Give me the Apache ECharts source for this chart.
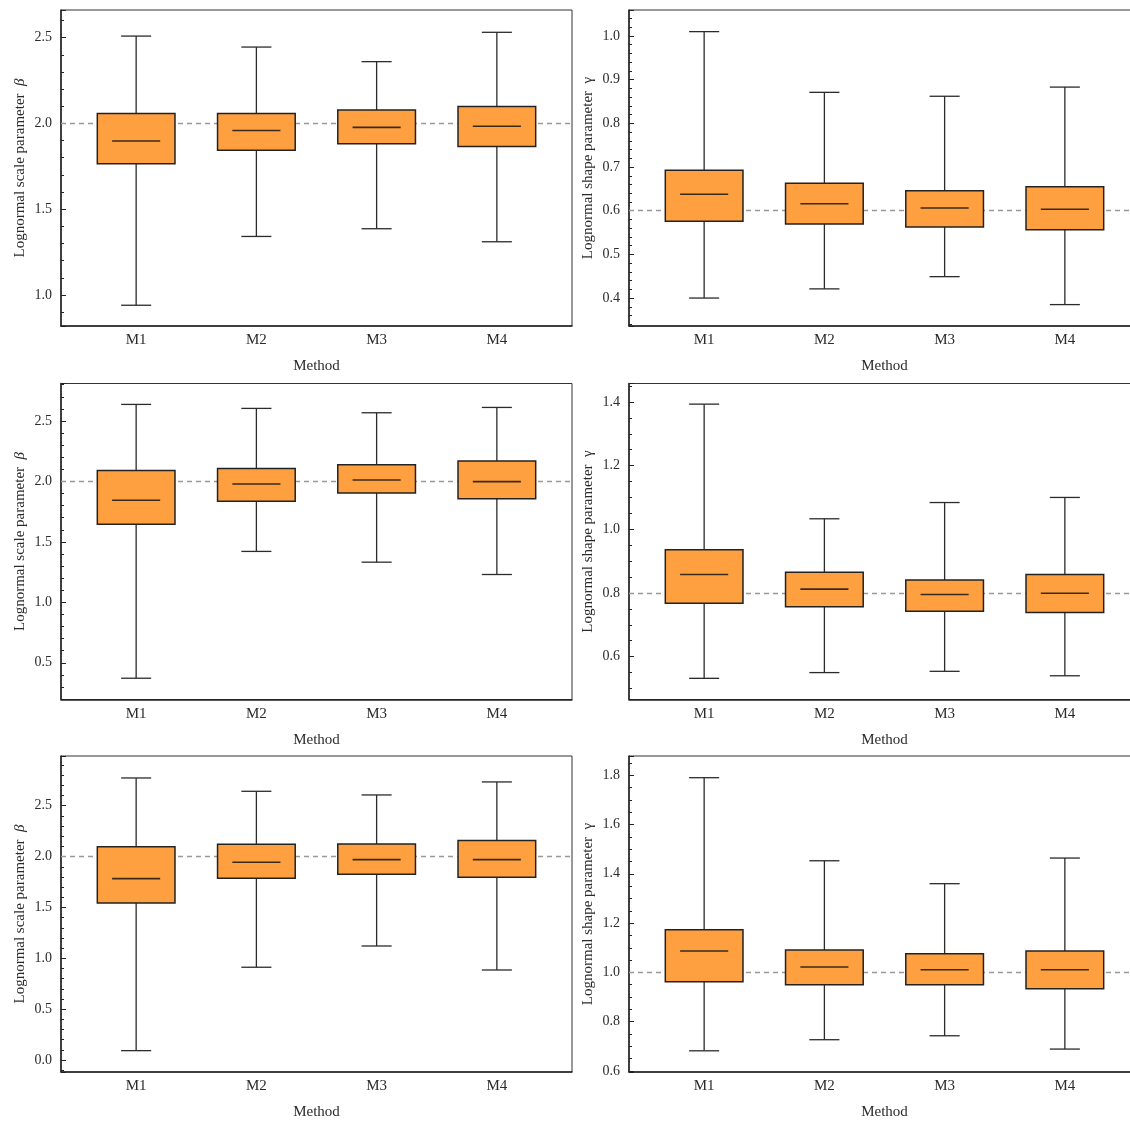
<!DOCTYPE html>
<html>
<head>
<meta charset="utf-8">
<script src="https://cdn.jsdelivr.net/npm/echarts@6/dist/echarts.min.js"></script>
<style>
  html, body { margin: 0; padding: 0; background: #fff; }
  #chart { width: 1130px; height: 1122px; }
</style>
</head>
<body>
<div id="chart"></div>
<script>
// Methods compared on the horizontal axis
const methods = ['M1', 'M2', 'M3', 'M4'];

// Five-number summaries per method: [lower whisker, Q1, median, Q3, upper whisker]
const betaRow1  = [[0.940, 1.765, 1.897, 2.058, 2.509], [1.341, 1.843, 1.959, 2.058, 2.445], [1.386, 1.882, 1.977, 2.078, 2.360], [1.310, 1.866, 1.983, 2.099, 2.531]];
const gammaRow1 = [[0.400, 0.576, 0.6375, 0.6925, 1.010], [0.421, 0.5695, 0.616, 0.6627, 0.871], [0.449, 0.5627, 0.6062, 0.6458, 0.862], [0.385, 0.5565, 0.6032, 0.655, 0.883]];
const betaRow2  = [[0.372, 1.645, 1.844, 2.090, 2.637], [1.421, 1.836, 1.979, 2.106, 2.604], [1.332, 1.905, 2.012, 2.137, 2.568], [1.230, 1.857, 1.998, 2.168, 2.612]];
const gammaRow2 = [[0.532, 0.768, 0.858, 0.936, 1.393], [0.550, 0.757, 0.812, 0.865, 1.033], [0.554, 0.743, 0.795, 0.841, 1.084], [0.540, 0.739, 0.799, 0.858, 1.100]];
const betaRow3  = [[0.092, 1.544, 1.783, 2.097, 2.773], [0.912, 1.787, 1.944, 2.121, 2.642], [1.121, 1.826, 1.970, 2.124, 2.606], [0.885, 1.796, 1.970, 2.157, 2.734]];
const gammaRow3 = [[0.682, 0.962, 1.087, 1.173, 1.790], [0.727, 0.950, 1.022, 1.091, 1.453], [0.743, 0.950, 1.011, 1.076, 1.360], [0.689, 0.934, 1.011, 1.087, 1.464]];

// True parameter values shown as dashed reference lines
const betaTrue  = [2.0, 2.0, 2.0];
const gammaTrue = [0.6, 0.8, 1.0];

// Vertical ranges and [major, minor] tick steps
const betaRanges  = [[0.819, 2.661], [0.196, 2.810], [-0.118, 2.989]];
const gammaRanges = [[0.336, 1.0595], [0.4655, 1.4578], [0.596, 1.878]];
const betaSteps   = [[0.5, 0.1], [0.5, 0.1], [0.5, 0.1]];
const gammaSteps  = [[0.1, 0.02], [0.2, 0.05], [0.2, 0.05]];

const FONT = 'Liberation Serif';
const INK = '#2b2b2b';
const BOX_HALF = 0.323, CAP_HALF = 0.125, MED_HALF = 0.2;

const panels = [
  { stats: betaRow1,  ref: betaTrue[0],  range: betaRanges[0],  steps: betaSteps[0],  kind: 'beta' },
  { stats: gammaRow1, ref: gammaTrue[0], range: gammaRanges[0], steps: gammaSteps[0], kind: 'gamma' },
  { stats: betaRow2,  ref: betaTrue[1],  range: betaRanges[1],  steps: betaSteps[1],  kind: 'beta' },
  { stats: gammaRow2, ref: gammaTrue[1], range: gammaRanges[1], steps: gammaSteps[1], kind: 'gamma' },
  { stats: betaRow3,  ref: betaTrue[2],  range: betaRanges[2],  steps: betaSteps[2],  kind: 'beta' },
  { stats: gammaRow3, ref: gammaTrue[2], range: gammaRanges[2], steps: gammaSteps[2], kind: 'gamma' }
];

const rowTops = [10, 383.5, 756];
const colLefts = [61, 629];

function onStep(v, step) {
  const k = v / step;
  return Math.abs(k - Math.round(k)) < 1e-6;
}

function renderBox(params, api) {
  const x = api.value(0);
  const lo = api.value(1), q1 = api.value(2), med = api.value(3), q3 = api.value(4), hi = api.value(5);
  const p = (dx, v) => api.coord([x + dx, v]);
  const seg = (a, b, w, c) => ({
    type: 'line',
    shape: { x1: a[0], y1: a[1], x2: b[0], y2: b[1] },
    style: { stroke: c || INK, lineWidth: w }
  });
  const tl = p(-BOX_HALF, q3), br = p(BOX_HALF, q1);
  return {
    type: 'group',
    children: [
      seg(p(0, lo), p(0, hi), 1.3),
      seg(p(-CAP_HALF, hi), p(CAP_HALF, hi), 1.3),
      seg(p(-CAP_HALF, lo), p(CAP_HALF, lo), 1.3),
      {
        type: 'rect',
        shape: { x: tl[0], y: tl[1], width: br[0] - tl[0], height: br[1] - tl[1] },
        style: { fill: '#FFA040', stroke: '#222', lineWidth: 1.5 }
      },
      seg(p(-MED_HALF, med), p(MED_HALF, med), 1.6, '#3a2a1a')
    ]
  };
}

const grid = [], xAxis = [], yAxis = [], series = [];

panels.forEach((pn, i) => {
  const row = Math.floor(i / 2), col = i % 2;
  grid.push({
    left: colLefts[col], top: rowTops[row], width: 511, height: 316,
    show: true, borderColor: '#333', borderWidth: 1, backgroundColor: 'transparent',
    containLabel: false, outerBoundsMode: 'none'
  });
  xAxis.push({
    type: 'value', gridIndex: i, min: 0.375, max: 4.625, minInterval: 1, maxInterval: 1,
    axisLine: { onZero: false, lineStyle: { color: '#222', width: 1.5 } },
    axisTick: { show: false },
    splitLine: { show: false },
    axisLabel: {
      margin: 7, fontFamily: FONT, fontSize: 15, color: INK,
      formatter: v => onStep(v, 1) && Math.round(v) >= 1 && Math.round(v) <= 4 ? methods[Math.round(v) - 1] : ''
    },
    name: 'Method', nameLocation: 'middle', nameGap: 33,
    nameTextStyle: { fontFamily: FONT, fontSize: 15, color: INK }
  });
  const isBeta = pn.kind === 'beta';
  // main axis: labels and major ticks
  yAxis.push({
    type: 'value', gridIndex: i, position: 'left',
    min: pn.range[0], max: pn.range[1], minInterval: pn.steps[0], maxInterval: pn.steps[0],
    axisLine: { onZero: false, lineStyle: { color: '#222', width: 1.5 } },
    axisTick: { inside: true, length: 5, lineStyle: { color: '#222' } },
    splitLine: { show: false },
    axisLabel: {
      margin: 9, fontFamily: FONT, fontSize: 14, color: INK,
      formatter: v => onStep(v, pn.steps[0]) ? v.toFixed(1) : ''
    },
    name: isBeta ? 'Lognormal scale parameter  {i|β}' : 'Lognormal shape parameter  γ',
    nameLocation: 'middle', nameGap: 33,
    nameTextStyle: {
      fontFamily: FONT, fontSize: 15, color: INK,
      rich: { i: { fontFamily: FONT, fontSize: 15, fontStyle: 'italic', color: INK } }
    }
  });
  // companion axis: minor ticks only
  yAxis.push({
    type: 'value', gridIndex: i, position: 'left',
    min: pn.range[0], max: pn.range[1], minInterval: pn.steps[1], maxInterval: pn.steps[1],
    axisLine: { show: false, onZero: false },
    axisTick: { inside: true, length: 3, lineStyle: { color: '#222' } },
    axisLabel: { show: false },
    splitLine: { show: false }
  });
  series.push({
    type: 'custom', xAxisIndex: i, yAxisIndex: 2 * i, z: 3,
    renderItem: renderBox,
    encode: { x: 0, y: [1, 2, 3, 4, 5] },
    data: pn.stats.map((s, k) => [k + 1].concat(s)),
    markLine: {
      z: 1, silent: true, symbol: 'none', label: { show: false },
      lineStyle: { color: '#999', type: [5, 4], width: 1.3 },
      data: [{ yAxis: pn.ref }]
    }
  });
});

const chart = echarts.init(document.getElementById('chart'), null, { renderer: 'canvas' });
chart.setOption({ animation: false, backgroundColor: '#fff', grid, xAxis, yAxis, series });
</script>
</body>
</html>
